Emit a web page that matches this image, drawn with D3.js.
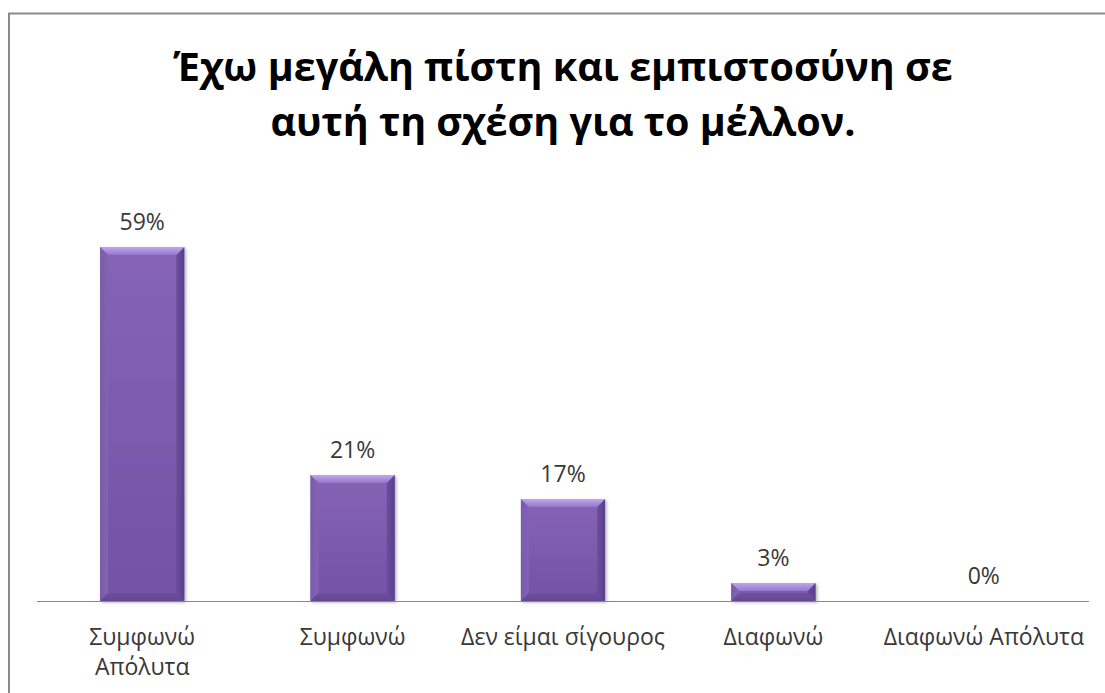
<!DOCTYPE html>
<html>
<head>
<meta charset="utf-8">
<script src="https://cdn.jsdelivr.net/npm/d3@7"></script>
<style>
  html, body { margin: 0; padding: 0; background: #fff; }
  svg { display: block; }
</style>
</head>
<body>
<svg id="chart" width="1105" height="693"></svg>
<script>
// Survey answers and their shares (percent)
const titleLines = ["Έχω μεγάλη πίστη και εμπιστοσύνη σε", "αυτή τη σχέση για το μέλλον."];
const categories = ["Συμφωνώ\nΑπόλυτα", "Συμφωνώ", "Δεν είμαι σίγουρος", "Διαφωνώ", "Διαφωνώ Απόλυτα"];
const values = [59, 21, 17, 3, 0];

const W = 1105, H = 693;
const font = "'Open Sans', 'Noto Sans', sans-serif";
const svg = d3.select("#chart");

// Frame
svg.append("rect")
  .attr("x", 9).attr("y", 13.5)
  .attr("width", W + 20).attr("height", H + 20)
  .attr("fill", "#fff")
  .attr("stroke", "#8a8a8a").attr("stroke-width", 2);

// Gradients for the bevelled bars
const defs = svg.append("defs");
function grad(id, x2, y2, stops) {
  const g = defs.append("linearGradient").attr("id", id)
    .attr("x1", 0).attr("y1", 0).attr("x2", x2).attr("y2", y2);
  stops.forEach(([o, c]) => g.append("stop").attr("offset", o).attr("stop-color", c));
}
grad("body", 0, 1, [[0, "#8664b6"], [1, "#7252a4"]]);
grad("topBev", 0, 1, [[0, "#c0a6ee"], [1, "#9676cc"]]);
grad("leftBev", 1, 0, [[0, "#7a5aac"], [1, "#8462b4"]]);
grad("rightBev", 1, 0, [[0, "#6c4e9c"], [1, "#58408a"]]);
grad("botBev", 0, 1, [[0, "#6a4c9a"], [1, "#584088"]]);

const filter = defs.append("filter").attr("id", "shadow")
  .attr("x", "-20%").attr("y", "-20%").attr("width", "140%").attr("height", "140%");
filter.append("feDropShadow").attr("dx", 1.5).attr("dy", 1.5)
  .attr("stdDeviation", 1.5).attr("flood-color", "#000").attr("flood-opacity", 0.3);

// Scales
const x = d3.scaleBand().domain(categories).range([37, 1089]).paddingInner(0.6).paddingOuter(0.3);
const y = d3.scaleLinear().domain([0, 70]).range([601, 181]);

// Title
svg.append("g").selectAll("text").data(titleLines).join("text")
  .attr("x", 563).attr("y", (d, i) => 81 + i * 55)
  .attr("text-anchor", "middle")
  .attr("font-family", font).attr("font-weight", "700").attr("font-size", 39.5)
  .attr("fill", "#000")
  .text(d => d);

// Bars
const bev = 8;
const bars = svg.append("g").selectAll("g").data(values.map((v, i) => ({ c: categories[i], v })))
  .join("g")
  .filter(d => d.v > 0)
  .attr("filter", "url(#shadow)");

bars.each(function (d) {
  const g = d3.select(this);
  const x0 = x(d.c), w = x.bandwidth();
  const y0 = y(d.v), y1 = y(0);
  const b = Math.min(bev, (y1 - y0) / 2);
  g.append("rect").attr("x", x0).attr("y", y0).attr("width", w).attr("height", y1 - y0)
    .attr("fill", "url(#body)");
  const poly = pts => g.append("polygon").attr("points", pts.map(p => p.join(",")).join(" "));
  poly([[x0, y0], [x0 + b, y0 + b], [x0 + b, y1 - b], [x0, y1]]).attr("fill", "url(#leftBev)");
  poly([[x0 + w, y0], [x0 + w - b, y0 + b], [x0 + w - b, y1 - b], [x0 + w, y1]]).attr("fill", "url(#rightBev)");
  poly([[x0, y1], [x0 + b, y1 - b], [x0 + w - b, y1 - b], [x0 + w, y1]]).attr("fill", "url(#botBev)").attr("opacity", 0.6);
  poly([[x0, y0], [x0 + w, y0], [x0 + w - b, y0 + b], [x0 + b, y0 + b]]).attr("fill", "url(#topBev)");
});

// Value labels
svg.append("g").selectAll("text").data(values).join("text")
  .attr("x", (d, i) => x(categories[i]) + x.bandwidth() / 2)
  .attr("y", d => y(d) - 17)
  .attr("text-anchor", "middle")
  .attr("font-family", font).attr("font-size", 23)
  .attr("fill", "#383838")
  .text(d => d + "%");

// Category axis
const axis = svg.append("g").attr("transform", "translate(0,601)")
  .call(d3.axisBottom(x).tickSize(0).tickSizeOuter(0).tickFormat(""));
axis.select(".domain").attr("stroke", "#868686").attr("stroke-width", 1)
  .attr("d", "M37,0.5H1089");

axis.selectAll(".tick").each(function (d) {
  const t = d3.select(this).append("text")
    .attr("text-anchor", "middle")
    .attr("font-family", font).attr("font-size", 23)
    .attr("fill", "#383838");
  d.split("\n").forEach((line, i) => {
    t.append("tspan").attr("x", 0).attr("y", 44 + i * 30).text(line);
  });
});
</script>
</body>
</html>
